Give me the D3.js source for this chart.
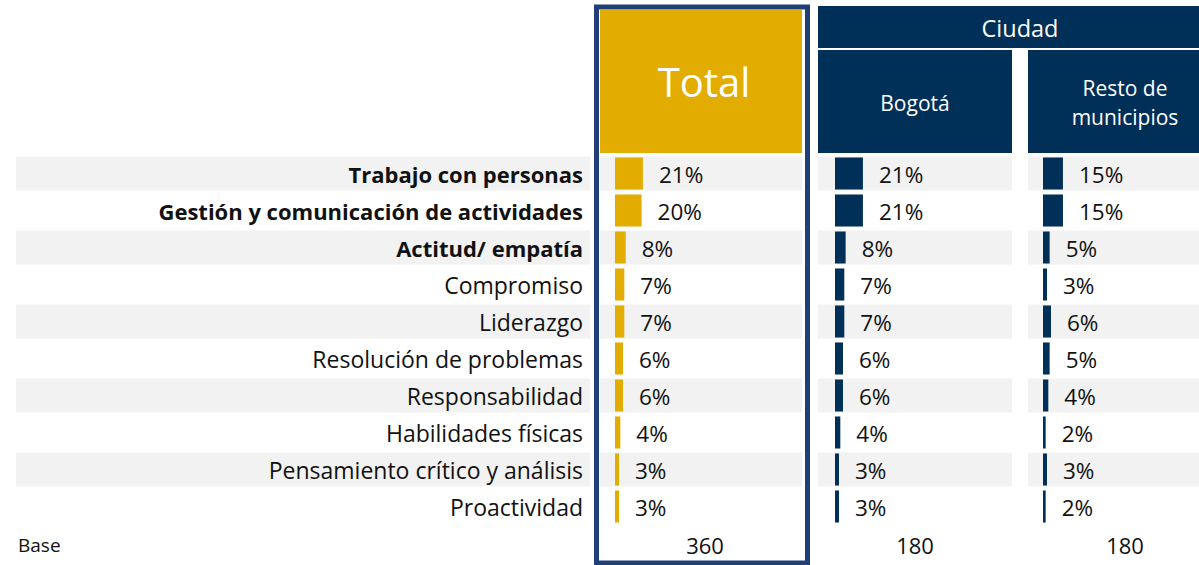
<!DOCTYPE html>
<html>
<head>
<meta charset="utf-8">
<script src="https://cdn.jsdelivr.net/npm/d3@7"></script>
<style>
  body { margin: 0; background: #fff; }
  svg { display: block; font-family: "Open Sans", Carlito, Calibri, sans-serif; }
</style>
</head>
<body>
<svg id="chart" width="1199" height="565"></svg>
<script>
// data
const categories = ["Trabajo con personas", "Gestión y comunicación de actividades", "Actitud/ empatía",
  "Compromiso", "Liderazgo", "Resolución de problemas", "Responsabilidad", "Habilidades físicas",
  "Pensamiento crítico y análisis", "Proactividad"];
const boldCount = 3;
const totalValues = [21, 20, 8, 7, 7, 6, 6, 4, 3, 3];
const bogotaValues = [21, 21, 8, 7, 7, 6, 6, 4, 3, 3];
const restoValues = [15, 15, 5, 3, 6, 5, 4, 2, 3, 2];
const bases = [360, 180, 180];

const gold = "#E2AC00";
const navy = "#003058";
const frameColor = "#1F3F77";
const stripe = "#F2F2F2";

const svg = d3.select("#chart");

// scales
const yScale = d3.scaleBand().domain(categories).range([155, 525]).paddingInner(0.08).paddingOuter(0.04);
const xScale = d3.scaleLinear().domain([0, 100]).range([0, 133]);

// columns: stripe extents and bar start
const columns = [
  { key: "total", values: totalValues, x0: 600, x1: 802, barX: 615, color: gold, base: bases[0], baseX: 705 },
  { key: "bogota", values: bogotaValues, x0: 818, x1: 1012, barX: 835, color: navy, base: bases[1], baseX: 915 },
  { key: "resto", values: restoValues, x0: 1028, x1: 1199, barX: 1043, color: navy, base: bases[2], baseX: 1125 }
];

// zebra stripes
const stripeRows = categories.filter((c, i) => i % 2 === 0);
svg.append("g").selectAll("rect")
  .data(stripeRows)
  .join("rect")
  .attr("x", 16)
  .attr("width", 574)
  .attr("y", d => yScale(d))
  .attr("height", yScale.bandwidth())
  .attr("fill", stripe);

columns.forEach(col => {
  svg.append("g").selectAll("rect")
    .data(stripeRows)
    .join("rect")
    .attr("x", col.x0)
    .attr("width", col.x1 - col.x0)
    .attr("y", d => yScale(d))
    .attr("height", yScale.bandwidth())
    .attr("fill", stripe);
});

// headers
svg.append("rect").attr("x", 600).attr("y", 10).attr("width", 202).attr("height", 143).attr("fill", gold);
svg.append("text").attr("x", 704).attr("y", 97).attr("text-anchor", "middle")
  .attr("font-size", 40).attr("fill", "#fff").text("Total");

svg.append("rect").attr("x", 818).attr("y", 6).attr("width", 381).attr("height", 42).attr("fill", navy);
svg.append("text").attr("x", 1020).attr("y", 37).attr("text-anchor", "middle")
  .attr("font-size", 23.5).attr("fill", "#fff").text("Ciudad");

svg.append("rect").attr("x", 818).attr("y", 50).attr("width", 194).attr("height", 103).attr("fill", navy);
svg.append("text").attr("x", 915).attr("y", 111).attr("text-anchor", "middle")
  .attr("font-size", 21).attr("fill", "#fff").text("Bogotá");

svg.append("rect").attr("x", 1028).attr("y", 50).attr("width", 171).attr("height", 103).attr("fill", navy);
const resto = svg.append("text").attr("text-anchor", "middle").attr("font-size", 21).attr("fill", "#fff");
resto.append("tspan").attr("x", 1125).attr("y", 96).text("Resto de");
resto.append("tspan").attr("x", 1125).attr("y", 125).text("municipios");

// row labels
svg.append("g").selectAll("text")
  .data(categories)
  .join("text")
  .attr("x", 583)
  .attr("y", d => yScale(d) + yScale.bandwidth() / 2 + 9)
  .attr("text-anchor", "end")
  .attr("font-size", (d, i) => i < boldCount ? 22 : 23)
  .attr("font-weight", (d, i) => i < boldCount ? "bold" : "normal")
  .attr("fill", "#111")
  .text(d => d);

// bars and value labels
columns.forEach(col => {
  const g = svg.append("g");
  g.selectAll("rect")
    .data(col.values)
    .join("rect")
    .attr("x", col.barX)
    .attr("y", (d, i) => yScale(categories[i]) + 1)
    .attr("width", d => xScale(d))
    .attr("height", yScale.bandwidth() - 2)
    .attr("fill", col.color);

  g.selectAll("text")
    .data(col.values)
    .join("text")
    .attr("x", d => col.barX + xScale(d) + 16)
    .attr("y", (d, i) => yScale(categories[i]) + yScale.bandwidth() / 2 + 9)
    .attr("font-size", 22.5)
    .attr("fill", "#111")
    .text(d => `${d}%`);

  svg.append("text")
    .attr("x", col.baseX)
    .attr("y", 554)
    .attr("text-anchor", "middle")
    .attr("font-size", 22)
    .attr("fill", "#111")
    .text(col.base);
});

svg.append("text").attr("x", 18).attr("y", 552).attr("font-size", 19).attr("fill", "#111").text("Base");

// frame round the Total column
svg.append("rect")
  .attr("x", 596.5).attr("y", 7).attr("width", 211).attr("height", 556)
  .attr("fill", "none").attr("stroke", frameColor).attr("stroke-width", 5);
</script>
</body>
</html>
